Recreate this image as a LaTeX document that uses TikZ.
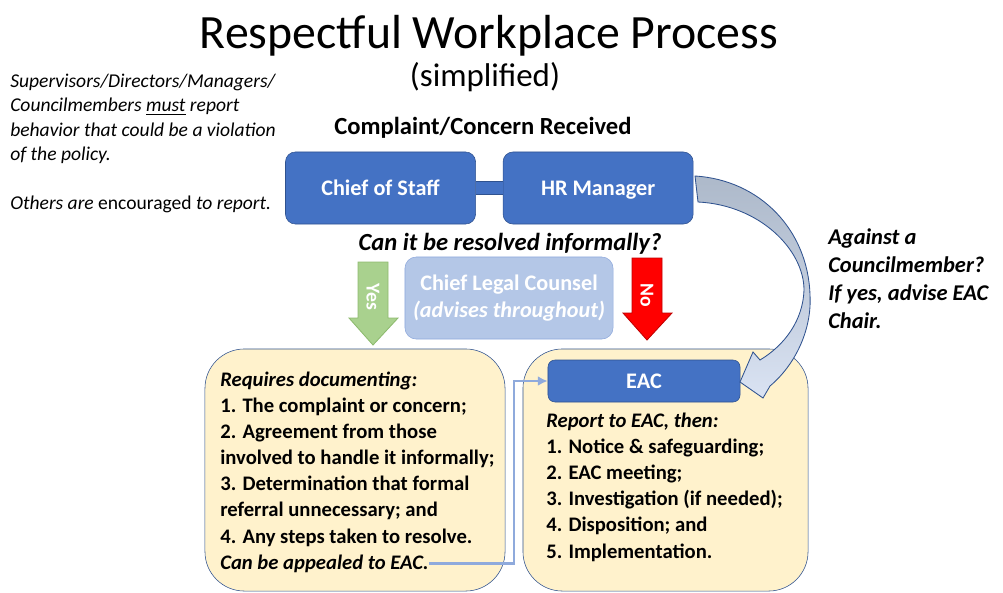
\documentclass[tikz,border=0pt]{standalone}
\usepackage{fontspec}
\setmainfont{Carlito}
\usetikzlibrary{positioning,calc,arrows.meta}
\definecolor{roleblue}{HTML}{4472C4}
\definecolor{roleedge}{HTML}{2F528F}
\definecolor{legalblue}{HTML}{B4C7E7}
\definecolor{legaledge}{HTML}{8FAADC}
\definecolor{noteyellow}{HTML}{FFF2CC}
\definecolor{yesgreen}{HTML}{A9D18E}
\definecolor{yesedge}{HTML}{8DBA6E}
\definecolor{nored}{HTML}{FF0000}
\definecolor{noedge}{HTML}{C00000}
\definecolor{curvegrey}{HTML}{ADB9CA}
\definecolor{curvelight}{HTML}{DAE3F3}
\newcommand{\RoleFont}{\fontsize{15.8}{19}\selectfont\bfseries}
\newcommand{\StepFont}{\fontsize{14.7}{18.6}\selectfont\bfseries}
\newcommand{\AskFont}{\fontsize{17.5}{21}\selectfont\bfseries}

\begin{document}
\begin{tikzpicture}[x=0.025cm, y=-0.025cm,
  role/.style={draw=roleedge, fill=roleblue, text=white, font=\RoleFont,
    rounded corners=7pt, minimum width=4.75cm, minimum height=1.8cm, inner sep=0,
    text height=10.2pt, text depth=0pt},
  legal/.style={draw=legaledge, fill=legalblue, text=white, font=\RoleFont,
    rounded corners=8pt, minimum width=5.2cm, minimum height=2.05cm,
    align=center, inner sep=0},
  note/.style={draw=roleedge, fill=noteyellow, rounded corners=28pt,
    minimum height=6.05cm, inner sep=0},
  steps/.style={font=\StepFont, align=left, inner sep=0},
  bigarrow/.style={line width=0.6pt, line join=miter},
  appeal/.style={draw=legaledge, line width=1.8pt, -{Latex[length=7pt,width=7pt]}},
]
\useasboundingbox (0,0) rectangle (1003,592);

% heading
\node[anchor=base, font=\fontsize{34}{40}\selectfont] (title) at (489,48) {Respectful Workplace Process};
\node[anchor=base, font=\fontsize{23.4}{28}\selectfont] (subtitle) at (485,86) {(simplified)};

% who reports (anchored on the last line)
\node[anchor=base west, align=left, inner sep=0, font=\fontsize{13.9}{17.3}\selectfont\itshape] (policy) at (10,209)
  {Supervisors/Directors/Managers/\\Councilmembers \underline{must} report\\behavior that could be a violation\\of the policy.\\[17.3pt]Others are {\upshape encouraged} to report.};

\node[anchor=base, font=\AskFont] (received) at (483,134) {Complaint/Concern Received};

% intake
\node[role] (cos) at (380.5,188) {Chief of Staff};
\node[role, right=0.675cm of cos] (hr) {HR Manager};
\draw[roleedge, line width=9.6pt] (cos.east) -- (hr.west);
\draw[roleblue, line width=8pt] (cos.east) -- (hr.west);

\node[anchor=base, font=\AskFont\itshape] (question) at (510,250) {Can it be resolved informally?};

\node[legal] (legal) at (509,298) {Chief Legal Counsel\\\textit{(advises throughout)}};

% yes / no
\draw[bigarrow, draw=yesedge, fill=yesgreen] (358,262) -- (388,262) -- (388,318) -- (398,318)
  -- (373,345) -- (349,318) -- (358,318) -- cycle;
\node[rotate=-90, text=white, font=\fontsize{14}{16}\selectfont\bfseries] (yes) at (373,297) {Yes};
\draw[bigarrow, draw=noedge, fill=nored] (632,258) -- (662,258) -- (662,313) -- (672,313)
  -- (647,340) -- (623,313) -- (632,313) -- cycle;
\node[rotate=-90, text=white, font=\fontsize{14}{16}\selectfont\bfseries] (no) at (647,295) {No};

% outcomes
\node[note, minimum width=7.5cm] (informal) at (355,470) {};
\node[note, minimum width=7.125cm] (formal) at (665.5,470) {};

\node[steps, anchor=base west] (record) at (220,543)
  {\textit{Requires documenting:}\\1. The complaint or concern;\\2. Agreement from those\\involved to handle it informally;\\3. Determination that formal\\referral unnecessary; and\\4. Any steps taken to resolve.};
\node[steps, anchor=base west] (appealnote) at (220,569) {\textit{Can be appealed to EAC.}};

\node[role, minimum width=4.8cm, minimum height=1.05cm, rounded corners=5pt] (eac) at (644,381) {EAC};
\node[steps, anchor=base west] (eacsteps) at (546,558)
  {\textit{Report to EAC, then:}\\1. Notice \& safeguarding;\\2. EAC meeting;\\3. Investigation (if needed);\\4. Disposition; and\\5. Implementation.};

\coordinate (gap) at (514,0);
\draw[appeal] (appealnote.east) -- (appealnote.east -| gap) |- (eac.west);

% councilmember route
\draw[bigarrow, draw=roleedge, shade, top color=curvegrey, bottom color=curvelight, middle color=curvegrey!55!curvelight]
  (695,176) .. controls (760,180) and (808,230) .. (810,295)
  .. controls (812,330) and (795,365) .. (770,386)
  -- (763,398) -- (740,382) -- (753,352) -- (760,360)
  .. controls (785,345) and (803,320) .. (804,290)
  .. controls (804,250) and (760,205) .. (698,202) -- cycle;

\node[anchor=base west, align=left, inner sep=0, font=\fontsize{16}{19.7}\selectfont\bfseries\itshape] (council) at (828,328)
  {Against a\\Councilmember?\\If yes, advise EAC\\Chair.};
\end{tikzpicture}
\end{document}
